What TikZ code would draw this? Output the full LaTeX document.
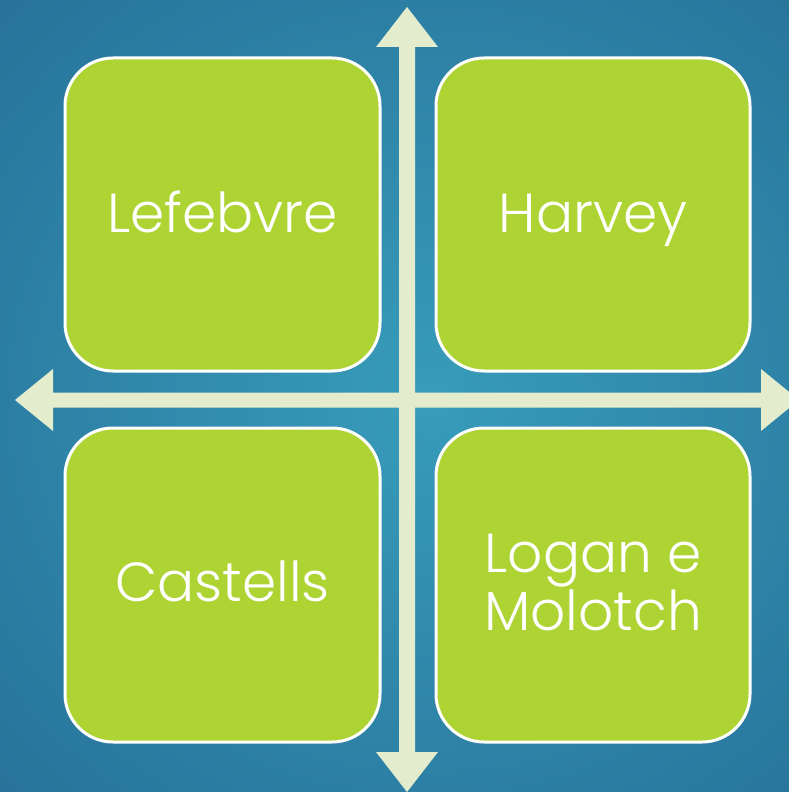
\documentclass[tikz,border=0pt]{standalone}
\usepackage{fontspec}
\setmainfont{Poppins Light}
\definecolor{bgdark}{RGB}{36,106,148}
\definecolor{bglight}{RGB}{56,156,186}
\definecolor{boxgreen}{RGB}{174,212,52}
\definecolor{arrowcol}{RGB}{227,237,205}
\tikzset{
  quad/.style={draw=white, line width=3pt, fill=boxgreen, rounded corners=48pt},
  lbl/.style={text=white, font=\fontsize{55}{58}\selectfont, inner sep=0pt, anchor=base},
  arr/.style={fill=arrowcol, draw=none}
}
\begin{document}
\begin{tikzpicture}[x=1pt,y=-1pt]
\useasboundingbox (0,0) rectangle (789,792);
\shade[inner color=bglight, outer color=bgdark] (-300,-280) rectangle (1160,1080);
\clip (0,0) rectangle (789,792);
% boxes
\draw[quad] (65,58) rectangle (380,371);
\draw[quad] (436,58) rectangle (750,371);
\draw[quad] (65,428) rectangle (380,742);
\draw[quad] (436,428) rectangle (750,742);
% arrows
\coordinate (L) at (15,400);
\coordinate (R) at (799,400);
\coordinate (T) at (407,7);
\coordinate (B) at (407,792);
\fill[arr] (L) -- (53,369) -- (53,392.5) -- (761,392.5) -- (761,369) -- (R) -- (761,431) -- (761,407.5) -- (53,407.5) -- (53,431) -- cycle;
\fill[arr] (T) -- (438,47) -- (415,47) -- (415,752) -- (438,752) -- (B) -- (376,752) -- (399,752) -- (399,47) -- (376,47) -- cycle;
% labels
\node[lbl] (lef) at (222.5,232) {Lefebvre};
\node[lbl] (har) at (593,232) {Harvey};
\node[lbl] (cas) at (222.5,601) {Castells};
\node[lbl] (log) at (593,572) {Logan e};
\node[lbl] (mol) at (593,630) {Molotch};
\end{tikzpicture}
\end{document}
